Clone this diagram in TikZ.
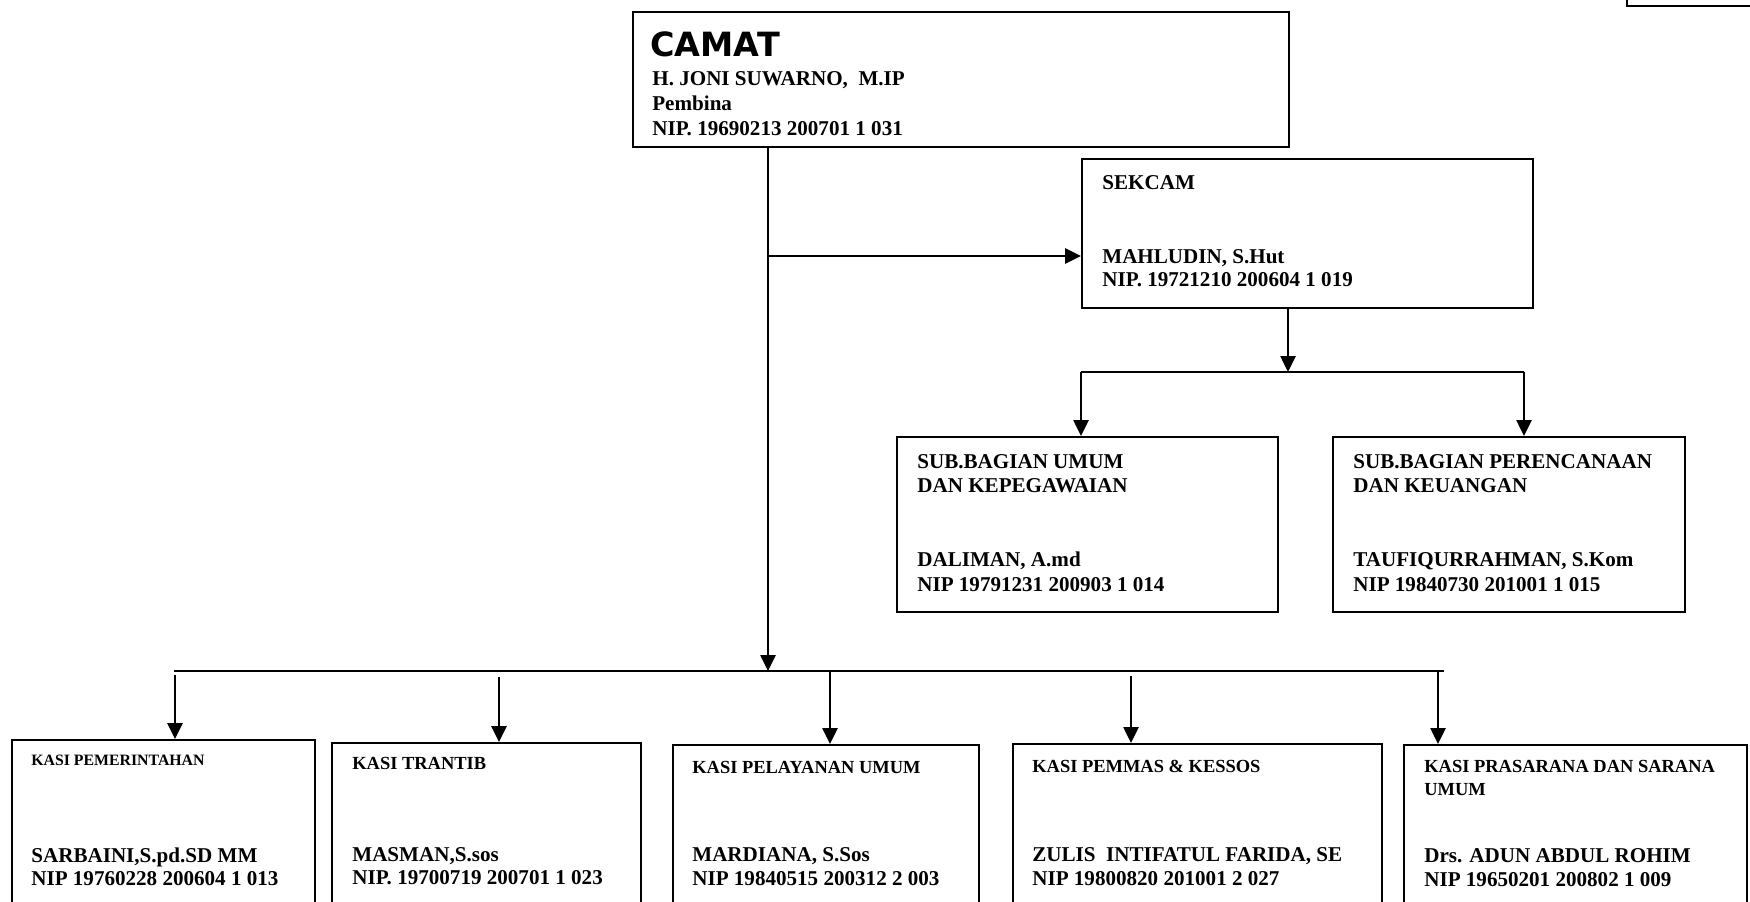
\documentclass[tikz,border=0pt]{standalone}
\usepackage{fontspec}
\setmainfont{Liberation Serif}
\newfontfamily\camatfont{DejaVu Sans}
\usetikzlibrary{arrows.meta}

\tikzset{
box/.style 2 args={draw, line width=1.2pt, inner sep=0pt, anchor=north west, minimum width=#1*0.02cm, minimum height=#2*0.02cm},
txt/.style={anchor=base west, inner sep=0pt, font=\bfseries\fontsize{12}{14}\selectfont},
kasi/.style={anchor=base west, inner sep=0pt, font=\bfseries\fontsize{10.5}{12}\selectfont},
arr/.style={line width=1.3pt, -{Triangle[length=9pt,width=8.5pt]}},
link/.style={line width=1.3pt},
}

\begin{document}
\begin{tikzpicture}[%
x=0.02cm, y=-0.02cm,
]
\useasboundingbox (0,0) rectangle (1750,902);
\clip (0,0) rectangle (1750,902);
%% box;
\node [box={200}{105}] (sudut) at (1626,-100) {};
%% box;
\node [box={656}{135}] (camat) at (632,11) {};
\node [anchor=base west, inner sep=0pt, font=\camatfont\bfseries\fontsize{19}{22}\selectfont] (camat-0) at (650,57) {CAMAT};
\node [txt] (camat-1) at (652,86) {H. JONI SUWARNO,~ M.IP};
\node [txt] (camat-2) at (652,111) {Pembina};
\node [txt] (camat-3) at (652,136) {NIP. 19690213 200701 1 031};
%% box;
\node [box={451}{149}] (sekcam) at (1081,158) {};
\node [txt] (sekcam-0) at (1102,190) {SEKCAM};
\node [txt] (sekcam-1) at (1102,263) {MAHLUDIN, S.Hut};
\node [txt] (sekcam-2) at (1102,286) {NIP. 19721210 200604 1 019};
%% box;
\node [box={381}{175}] (subumum) at (896,436) {};
\node [txt] (subumum-0) at (917,468) {SUB.BAGIAN UMUM};
\node [txt] (subumum-1) at (917,492) {DAN KEPEGAWAIAN};
\node [txt] (subumum-2) at (917,566) {DALIMAN, A.md};
\node [txt] (subumum-3) at (917,591) {NIP 19791231 200903 1 014};
%% box;
\node [box={352}{175}] (subren) at (1332,436) {};
\node [txt] (subren-0) at (1353,468) {SUB.BAGIAN PERENCANAAN};
\node [txt] (subren-1) at (1353,492) {DAN KEUANGAN};
\node [txt] (subren-2) at (1353,566) {TAUFIQURRAHMAN, S.Kom};
\node [txt] (subren-3) at (1353,591) {NIP 19840730 201001 1 015};
%% box;
\node [box={303}{200}] (kpem) at (11,739) {};
\node [kasi, font=\bfseries\fontsize{9}{11}\selectfont] (kpem-0) at (31,765) {KASI PEMERINTAHAN};
\node [txt] (kpem-1) at (31,862) {SARBAINI,S.pd.SD MM};
\node [txt] (kpem-2) at (31,885) {NIP 19760228 200604 1 013};
%% box;
\node [box={309}{200}] (ktrantib) at (331,742) {};
\node [kasi] (ktrantib-0) at (352,769) {KASI TRANTIB};
\node [txt] (ktrantib-1) at (352,861) {MASMAN,S.sos};
\node [txt] (ktrantib-2) at (352,884) {NIP. 19700719 200701 1 023};
%% box;
\node [box={306}{200}] (kpel) at (672,744) {};
\node [kasi] (kpel-0) at (692,773) {KASI PELAYANAN UMUM};
\node [txt] (kpel-1) at (692,861) {MARDIANA, S.Sos};
\node [txt] (kpel-2) at (692,885) {NIP 19840515 200312 2 003};
%% box;
\node [box={369}{200}] (kpemmas) at (1012,743) {};
\node [kasi] (kpemmas-0) at (1032,772) {KASI PEMMAS \& KESSOS};
\node [txt] (kpemmas-1) at (1032,861) {ZULIS~ INTIFATUL FARIDA, SE};
\node [txt] (kpemmas-2) at (1032,885) {NIP 19800820 201001 2 027};
%% box;
\node [box={343}{200}] (kpras) at (1403,744) {};
\node [kasi] (kpras-0) at (1424,772) {KASI PRASARANA DAN SARANA};
\node [kasi] (kpras-1) at (1424,795) {UMUM};
\node [txt] (kpras-2) at (1424,862) {Drs. ADUN ABDUL ROHIM};
\node [txt] (kpras-3) at (1424,886) {NIP 19650201 200802 1 009};
%% connector;
\coordinate (cabang) at (768,256);
\coordinate (bus) at (768,671);
\draw [arr] (camat.south -| bus) -- (bus);
\draw [arr] (cabang) -- (cabang -| sekcam.west);
%% connector;
\coordinate (sub) at (1288,372);
\coordinate (subl) at (1081,372);
\coordinate (subr) at (1524,372);
\draw [arr] (sekcam.south -| sub) -- (sub);
\draw [link] (subl) -- (subr);
\draw [arr] (subl) -- (subl |- subumum.north);
\draw [arr] (subr) -- (subr |- subren.north);
%% connector;
\coordinate (busl) at (174,671);
\coordinate (busr) at (1444,671);
\draw [link] (busl) -- (busr);
\coordinate (k1) at (175,675);
\coordinate (k2) at (499,677);
\coordinate (k3) at (830,671);
\coordinate (k4) at (1131,676);
\coordinate (k5) at (1438,671);
\draw [arr] (k1) -- (k1 |- kpem.north);
\draw [arr] (k2) -- (k2 |- ktrantib.north);
\draw [arr] (k3) -- (k3 |- kpel.north);
\draw [arr] (k4) -- (k4 |- kpemmas.north);
\draw [arr] (k5) -- (k5 |- kpras.north);
\end{tikzpicture}
\end{document}
